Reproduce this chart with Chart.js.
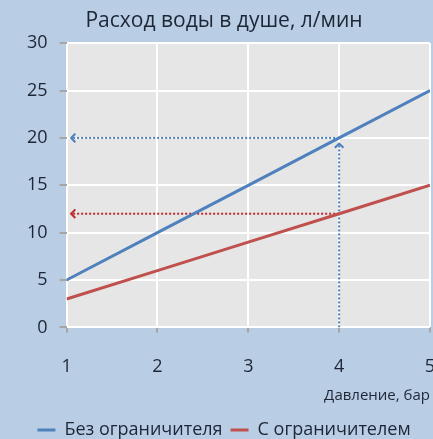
<!DOCTYPE html>
<html>
<head>
<meta charset="utf-8">
<script src="https://cdn.jsdelivr.net/npm/chart.js@4.4.1/dist/chart.umd.min.js"></script>
<style>
  html, body { margin: 0; padding: 0; background: #b9cde4; }
  #wrap { width: 433px; height: 439px; }
</style>
</head>
<body>
<div id="wrap"><canvas id="chart" width="433" height="439"></canvas></div>
<script>
const pressure = [1, 2, 3, 4, 5];
const noLimiter = [5, 10, 15, 20, 25];
const withLimiter = [3, 6, 9, 12, 15];

// dotted reading guides (x, y pairs in data units)
const guideBlueX = [4, 1.05];
const guideBlueY = [20, 20];
const guideUpX = [4, 4];
const guideUpY = [0, 19.4];
const guideRedX = [4, 1.05];
const guideRedY = [12, 12];

const yTicks = [0, 5, 10, 15, 20, 25, 30];

const textColor = '#1d2635';

function pts(xs, ys) {
    return xs.map((x, i) => ({ x: x, y: ys[i] }));
}

const plotBg = {
    id: 'plotBg',
    beforeDraw(chart) {
        const a = chart.chartArea;
        const ctx = chart.ctx;
        ctx.save();
        ctx.fillStyle = '#e6e6e6';
        ctx.fillRect(a.left, a.top, a.right - a.left, a.bottom - a.top);
        ctx.restore();
    }
};

const arrowHeads = {
    id: 'arrowHeads',
    afterDatasetsDraw(chart) {
        const ctx = chart.ctx;
        chart.data.datasets.forEach((ds, i) => {
            if (!ds.arrow) return;
            const meta = chart.getDatasetMeta(i);
            const n = meta.data.length;
            const p1 = meta.data[n - 2], p2 = meta.data[n - 1];
            const ang = Math.atan2(p2.y - p1.y, p2.x - p1.x);
            const s = 6;
            ctx.save();
            ctx.strokeStyle = ds.borderColor;
            ctx.lineWidth = 2;
            ctx.beginPath();
            ctx.moveTo(p2.x - s * Math.cos(ang - 0.8), p2.y - s * Math.sin(ang - 0.8));
            ctx.lineTo(p2.x, p2.y);
            ctx.lineTo(p2.x - s * Math.cos(ang + 0.8), p2.y - s * Math.sin(ang + 0.8));
            ctx.stroke();
            ctx.restore();
        });
    }
};

const ctx = document.getElementById('chart').getContext('2d');
new Chart(ctx, {
    type: 'line',
    data: {
        datasets: [
            {
                label: 'Без ограничителя',
                data: pts(pressure, noLimiter),
                borderColor: '#4f81bd',
                backgroundColor: '#4f81bd',
                borderWidth: 3,
                pointRadius: 0
            },
            {
                label: 'С ограничителем',
                data: pts(pressure, withLimiter),
                borderColor: '#c0504d',
                backgroundColor: '#c0504d',
                borderWidth: 3,
                pointRadius: 0
            },
            {
                label: 'guide1',
                data: pts(guideBlueX, guideBlueY),
                borderColor: '#4a7ebb',
                borderWidth: 2,
                borderDash: [2, 2],
                pointRadius: 0,
                arrow: true
            },
            {
                label: 'guide2',
                data: pts(guideUpX, guideUpY),
                borderColor: '#4a7ebb',
                borderWidth: 2,
                borderDash: [2, 2],
                pointRadius: 0,
                arrow: true
            },
            {
                label: 'guide3',
                data: pts(guideRedX, guideRedY),
                borderColor: '#c0282d',
                borderWidth: 2,
                borderDash: [2, 2],
                pointRadius: 0,
                arrow: true
            }
        ]
    },
    options: {
        responsive: false,
        animation: false,
        layout: { padding: { left: 15, right: 0, top: 8, bottom: -10 } },
        scales: {
            x: {
                type: 'linear',
                min: 1,
                max: 5,
                afterFit(scale) {
                    // tick padding should only push labels down, not sideways
                    scale.paddingLeft = 0;
                    scale.paddingRight = 3;
                },
                ticks: {
                    stepSize: 1,
                    color: textColor,
                    padding: 24,
                    font: { family: 'Open Sans', size: 18 }
                },
                grid: {
                    color: '#ffffff',
                    lineWidth: 2,
                    tickColor: '#a6a6a6',
                    tickLength: 5,
                    drawOnChartArea: true
                },
                border: { display: false },
                title: {
                    display: true,
                    text: 'Давление, бар',
                    align: 'end',
                    color: textColor,
                    font: { family: 'Open Sans', size: 15 },
                    padding: { top: -15, bottom: 8 }
                }
            },
            y: {
                min: 0,
                max: 30,
                afterBuildTicks(scale) {
                    scale.ticks = yTicks.map(v => ({ value: v }));
                },
                ticks: {
                    color: textColor,
                    padding: 12,
                    font: { family: 'Open Sans', size: 18 }
                },
                grid: {
                    color: '#ffffff',
                    lineWidth: 2,
                    tickColor: '#a6a6a6',
                    tickLength: 7
                },
                border: { display: false }
            }
        },
        plugins: {
            title: {
                display: true,
                text: 'Расход воды в душе, л/мин',
                color: textColor,
                font: { family: 'Open Sans', size: 21, weight: 'normal' },
                padding: { top: 0, bottom: 10 }
            },
            legend: {
                position: 'bottom',
                labels: {
                    filter: item => item.datasetIndex < 2,
                    usePointStyle: true,
                    pointStyle: 'line',
                    pointStyleWidth: 18,
                    color: textColor,
                    padding: 8,
                    boxWidth: 18,
                    font: { family: 'Open Sans', size: 18 }
                }
            },
            tooltip: { enabled: false }
        }
    },
    plugins: [plotBg, arrowHeads]
});
</script>
</body>
</html>
